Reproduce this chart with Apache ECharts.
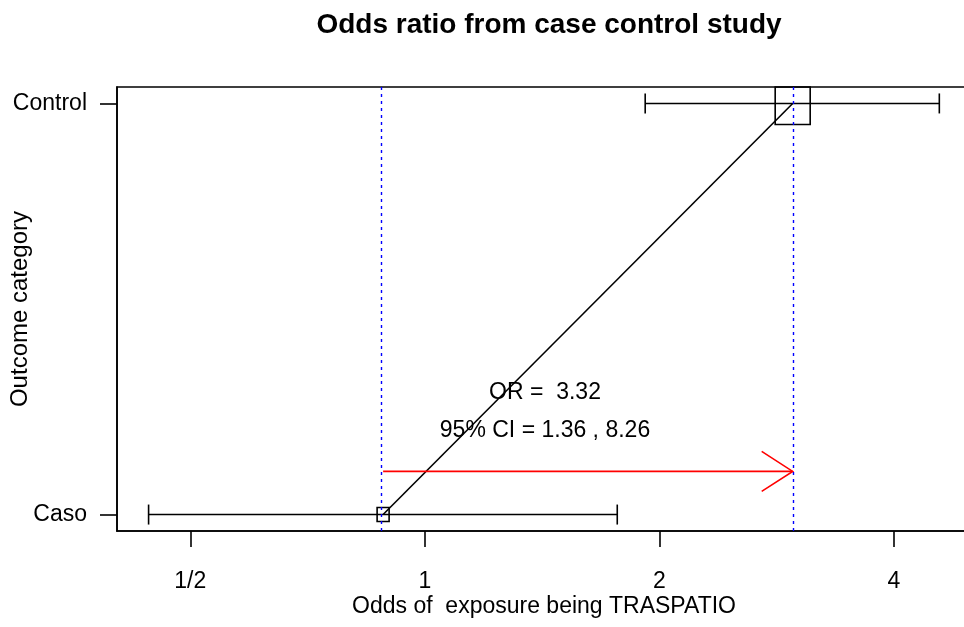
<!DOCTYPE html>
<html>
<head>
<meta charset="utf-8">
<script src="https://cdn.jsdelivr.net/npm/echarts@6/dist/echarts.min.js"></script>
<style>
  html, body { margin: 0; padding: 0; background: #fff; }
  #main { width: 964px; height: 627px; }
</style>
</head>
<body>
<div id="main"></div>
<script>
// outcome categories, bottom to top
var categories = ['Caso', 'Control'];
// odds of exposure per category, with 95% limits
var oddsValues = [0.884, 2.966];
var ciLower = [0.442, 1.918];
var ciUpper = [1.766, 4.575];
// summary printed on the chart
var oddsRatio = '3.32';
var ciText = ['1.36', '8.26'];
// x axis ticks
var xTicks = [0.5, 1, 2, 4];

var FONT = 'Liberation Sans, Arial, sans-serif';
var boxSizes = [[12, 14], [35, 42]]; // square marker size per row
var arrowY = 0.105;

var chart = echarts.init(document.getElementById('main'), null, { renderer: 'canvas' });

var ciData = categories.map(function (c, i) {
  return [ciLower[i], ciUpper[i], i, oddsValues[i]];
});

function renderCI(params, api) {
  var lo = api.coord([api.value(0), api.value(2)]);
  var hi = api.coord([api.value(1), api.value(2)]);
  var mid = api.coord([api.value(3), api.value(2)]);
  var cs = params.coordSys;
  var sz = boxSizes[params.dataIndex];
  var box = echarts.graphic.clipRectByRect(
    { x: mid[0] - sz[0] / 2, y: mid[1] - sz[1] / 2, width: sz[0], height: sz[1] },
    { x: cs.x, y: cs.y, width: cs.width, height: cs.height }
  );
  var st = { stroke: '#000', lineWidth: 1.6, fill: null };
  return {
    type: 'group',
    children: [
      { type: 'line', shape: { x1: lo[0], y1: lo[1], x2: hi[0], y2: hi[1] }, style: st },
      { type: 'line', shape: { x1: lo[0], y1: lo[1] - 10, x2: lo[0], y2: lo[1] + 10 }, style: st },
      { type: 'line', shape: { x1: hi[0], y1: hi[1] - 10, x2: hi[0], y2: hi[1] + 10 }, style: st },
      { type: 'rect', shape: box, style: { stroke: '#000', lineWidth: 1.6, fill: null } }
    ]
  };
}

function renderArrow(params, api) {
  var a = api.coord([api.value(0), api.value(2)]);
  var b = api.coord([api.value(1), api.value(2)]);
  var st = { stroke: '#ff0000', lineWidth: 1.6, fill: null };
  return {
    type: 'group',
    children: [
      { type: 'line', shape: { x1: a[0], y1: a[1], x2: b[0], y2: b[1] }, style: st },
      { type: 'polyline', shape: { points: [[b[0] - 31, b[1] - 20], [b[0], b[1]], [b[0] - 31, b[1] + 20]] }, style: st }
    ]
  };
}

var option = {
  animation: false,
  backgroundColor: '#fff',
  title: {
    text: 'Odds ratio from case control study',
    left: 544,
    textAlign: 'center',
    top: 6,
    textStyle: { fontFamily: FONT, fontSize: 28, fontWeight: 'bold', color: '#000' }
  },
  grid: {
    left: 117,
    top: 87,
    bottom: 96,
    right: -7,
    containLabel: false,
    outerBoundsMode: 'none',
    show: true,
    borderColor: '#000',
    borderWidth: 1.6
  },
  xAxis: {
    type: 'log',
    logBase: 2,
    min: 0.4026,
    max: 5.024,
    name: 'Odds of  exposure being TRASPATIO',
    nameLocation: 'middle',
    nameGap: 64,
    nameMoveOverlap: false,
    nameTextStyle: { fontFamily: FONT, fontSize: 23, color: '#000' },
    axisLine: { onZero: false, lineStyle: { color: '#000', width: 1.6 } },
    axisTick: { customValues: xTicks, length: 16, lineStyle: { color: '#000', width: 1.6 } },
    axisLabel: {
      customValues: xTicks,
      margin: 39,
      fontFamily: FONT,
      fontSize: 23,
      color: '#000',
      formatter: function (v) {
        return v < 1 ? '1/' + Math.round(1 / v) : String(Math.round(v));
      }
    },
    splitLine: { show: false }
  },
  yAxis: {
    type: 'value',
    min: -0.04,
    max: 1.04,
    name: 'Outcome category',
    nameLocation: 'middle',
    nameGap: 85,
    nameMoveOverlap: false,
    nameTextStyle: { fontFamily: FONT, fontSize: 24, color: '#000' },
    axisLine: { show: true, onZero: false, lineStyle: { color: '#000', width: 1.6 } },
    axisTick: { show: true, customValues: [0, 1], length: 17, lineStyle: { color: '#000', width: 1.6 } },
    axisLabel: {
      customValues: [0, 1],
      margin: 30,
      fontFamily: FONT,
      fontSize: 23,
      color: '#000',
      formatter: function (v) { return categories[Math.round(v)]; }
    },
    splitLine: { show: false }
  },
  graphic: [
    {
      type: 'text', x: 545, y: 393,
      style: { text: 'OR =  ' + oddsRatio, fontFamily: FONT, fontSize: 23, fill: '#000', textAlign: 'center', textVerticalAlign: 'middle' }
    },
    {
      type: 'text', x: 545, y: 431,
      style: { text: '95% CI = ' + ciText[0] + ' , ' + ciText[1], fontFamily: FONT, fontSize: 23, fill: '#000', textAlign: 'center', textVerticalAlign: 'middle' }
    }
  ],
  series: [
    {
      type: 'line',
      data: oddsValues.map(function (v, i) { return [v, i]; }),
      symbol: 'none',
      lineStyle: { color: '#000', width: 1.6 },
      markLine: {
        silent: true,
        symbol: 'none',
        label: { show: false },
        lineStyle: { color: '#0000ff', width: 1.4, type: [3, 4] },
        data: oddsValues.map(function (v) { return { xAxis: v }; })
      },
      z: 3
    },
    {
      type: 'custom',
      renderItem: renderCI,
      encode: { x: [0, 1, 3], y: 2 },
      data: ciData,
      z: 4
    },
    {
      type: 'custom',
      renderItem: renderArrow,
      encode: { x: [0, 1], y: 2 },
      data: [[oddsValues[0], oddsValues[1], arrowY]],
      z: 4
    }
  ]
};

chart.setOption(option);
</script>
</body>
</html>
